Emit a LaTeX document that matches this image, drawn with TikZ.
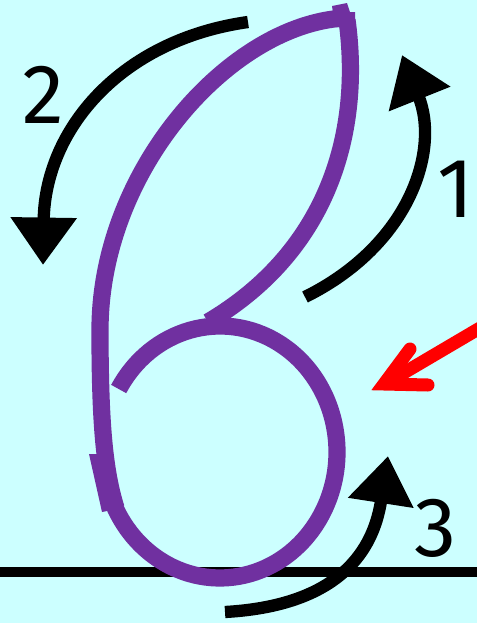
\documentclass[tikz,border=0pt]{standalone}
\usepackage{fontspec}
\setmainfont{Fira Sans}
\usetikzlibrary{arrows.meta}
\definecolor{sheetcyan}{RGB}{204,255,255}
\definecolor{letterpurple}{RGB}{112,48,160}
\definecolor{hintred}{RGB}{255,0,0}

\begin{document}
\begin{tikzpicture}[x=0.02cm, y=-0.02cm,
    letter/.style={draw=letterpurple, line width=9.8pt},
    guide/.style={draw=black, line width=7pt, -{Triangle[length=27pt, width=36pt]}},
    digit/.style={font=\fontsize{48}{48}\selectfont, inner sep=0pt}]
    % Background
    \fill[sheetcyan] (0,0) rectangle (477,623);
    \useasboundingbox (0,0) rectangle (477,623);

    % Baseline
    \draw[line width=5.7pt] (0,572) -- (477,572);

    % Letter
    \coordinate (loopTop) at (344,18);
    \coordinate (stemEnd) at (116,508);
    \coordinate (joint) at (208,322);
    \coordinate (ringStart) at (118.7,389);
    \draw[letter] (loopTop) .. controls (230,25) and (100,170) .. (100,330)
        .. controls (100,420) and (104,470) .. (stemEnd);
    \draw[letter] (347,20) .. controls (362,130) and (330,250) .. (joint);
    \draw[letter] (ringStart) arc[start angle=150, end angle=-160, x radius=2.34cm, y radius=2.52cm];
    \fill[letterpurple] (89,454) -- (106,454) -- (122,508) -- (102,512) -- cycle;
    \fill[letterpurple] (332,6) -- (347,3) -- (350,12) -- (355,12) -- (355,27) -- (335,27) -- cycle;

    % Stroke order arrows
    \coordinate (tail1) at (305,297);
    \coordinate (tip1) at (402,55);
    \draw[guide] (tail1) .. controls (410,245) and (440,150) .. (tip1);
    \coordinate (tail2) at (248,22);
    \coordinate (tip2) at (43,265);
    \draw[guide] (tail2) .. controls (120,40) and (45,130) .. (tip2);
    \coordinate (tail3) at (225,612);
    \coordinate (tip3) at (388,456);
    \draw[guide] (tail3) .. controls (350,605) and (375,540) .. (tip3);

    % Numbers
    \node[digit] (num1) at (456,189) {1};
    \node[digit] (num2) at (43,95) {2};
    \node[digit] (num3) at (436,528) {3};

    % Red pointer
    \coordinate (redTail) at (480,328);
    \coordinate (redTip) at (384,384);
    \draw[hintred, line width=7.4pt, line cap=round] (redTail) -- (390,381);
    \draw[hintred, line width=7.4pt, line cap=round, miter limit=10] (410,349) -- (redTip) -- (428,385);
\end{tikzpicture}
\end{document}
